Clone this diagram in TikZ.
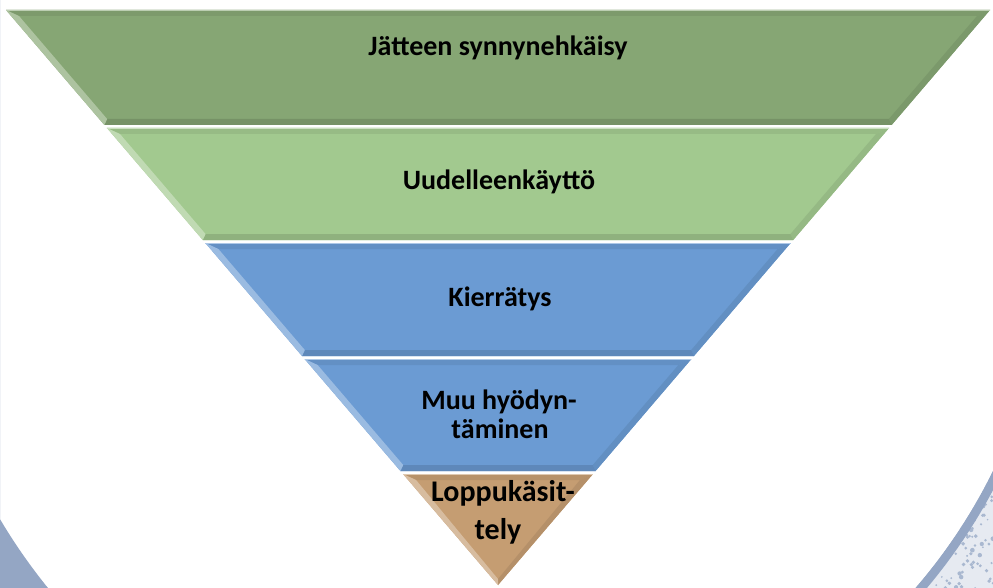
\documentclass[tikz,border=0pt]{standalone}
\usepackage{fontspec}
\setmainfont{Carlito}
\definecolor{arcblue}{HTML}{94A6C4}
\definecolor{speckbg}{HTML}{E6EAF1}
\definecolor{gA}{HTML}{86A674}
\definecolor{gB}{HTML}{A2C98F}
\definecolor{bA}{HTML}{6B9BD3}
\definecolor{tA}{HTML}{C59D72}
\tikzset{
  lbl/.style={font=\bfseries\fontsize{28}{30}\selectfont, text=black, inner sep=0pt, anchor=base},
  lblb/.style={font=\bfseries\fontsize{30}{32}\selectfont, text=black, inner sep=0pt, anchor=base}
}
\newcommand\drawband[5]{%
  \pgfmathsetmacro\hT{0.855652*(585-#1)}%
  \pgfmathsetmacro\hB{0.855652*(585-#2)}%
  \pgfmathsetmacro\iT{0.855652*(585-#1-6)-7.9}%
  \pgfmathsetmacro\iB{max(0.855652*(585-#2+6)-7.9,0)}%
  \pgfmathsetmacro\yT{#1+6}%
  \pgfmathsetmacro\yB{#2-6}%
  \fill[#3] (498-\hT,#1) -- (498+\hT,#1) -- (498+\hB,#2) -- (498-\hB,#2) -- cycle;
  \fill[#3!93!black] (498-\hT,#1) -- (498+\hT,#1) -- (498+\iT,\yT) -- (498-\iT,\yT) -- cycle;
  \fill[#3!92!black] (498+\hT,#1) -- (498+\hB,#2) -- (498+\iB,\yB) -- (498+\iT,\yT) -- cycle;
  \fill[#3!88!black] (498+\hB,#2) -- (498-\hB,#2) -- (498-\iB,\yB) -- (498+\iB,\yB) -- cycle;
  \fill[#3!68!white] (498-\hT,#1) -- (498-\hB,#2) -- (498-\iB,\yB) -- (498-\iT,\yT) -- cycle;
  \draw[#3!55!white, line width=1pt] (498-\hT,#1+0.5) -- (498+\hT,#1+0.5);
  \coordinate (#4) at (498,{(#1+#2)/2});
}
\begin{document}
\begin{tikzpicture}[x=1pt,y=-1pt]
\useasboundingbox (0,0) rectangle (993,588);
\fill[white] (0,0) rectangle (993,588);
% background circle edges
\begin{scope}
  \clip (0,0) rectangle (497,588);
  \fill[arcblue, even odd rule] (0,0) rectangle (497,588) (496.5,225) circle[radius=577];
\end{scope}
\begin{scope}
  \clip (497,0) rectangle (993,588);
  \fill[speckbg] (497,0) rectangle (993,588);
  \pgfmathsetseed{7}
  \foreach \i in {1,...,260} {
    \pgfmathsetmacro\dx{900+93*rnd}
    \pgfmathsetmacro\dy{470+118*rnd}
    \pgfmathsetmacro\dr{0.8+1.6*rnd}
    \fill[arcblue!80] (\dx,\dy) circle[radius=\dr];
  }
  \fill[arcblue, even odd rule] (496.5,226.6) circle[radius=562] (496.5,226.6) circle[radius=553];
  \fill[white] (496.5,226.6) circle[radius=553];
\end{scope}
% pyramid bands
\drawband{10}{125}{gA}{b1}{x}
\drawband{128}{240}{gB}{b2}{x}
\drawband{243}{356}{bA}{b3}{x}
\drawband{359}{471}{bA}{b4}{x}
\drawband{474}{585}{tA}{b5}{x}
% labels
\node[lbl] (t1) at (498,56) {Jätteen synnynehkäisy};
\node[lbl] (t2) at (499,190) {Uudelleenkäyttö};
\node[lbl] (t3) at (500,306) {Kierrätys};
\node[lbl] (t4a) at (499,409) {Muu hyödyn-};
\node[lbl] (t4b) at (500,438) {täminen};
\node[lblb] (t5a) at (503,501) {Loppukäsit-};
\node[lblb] (t5b) at (498,539) {tely};
\end{tikzpicture}
\end{document}
